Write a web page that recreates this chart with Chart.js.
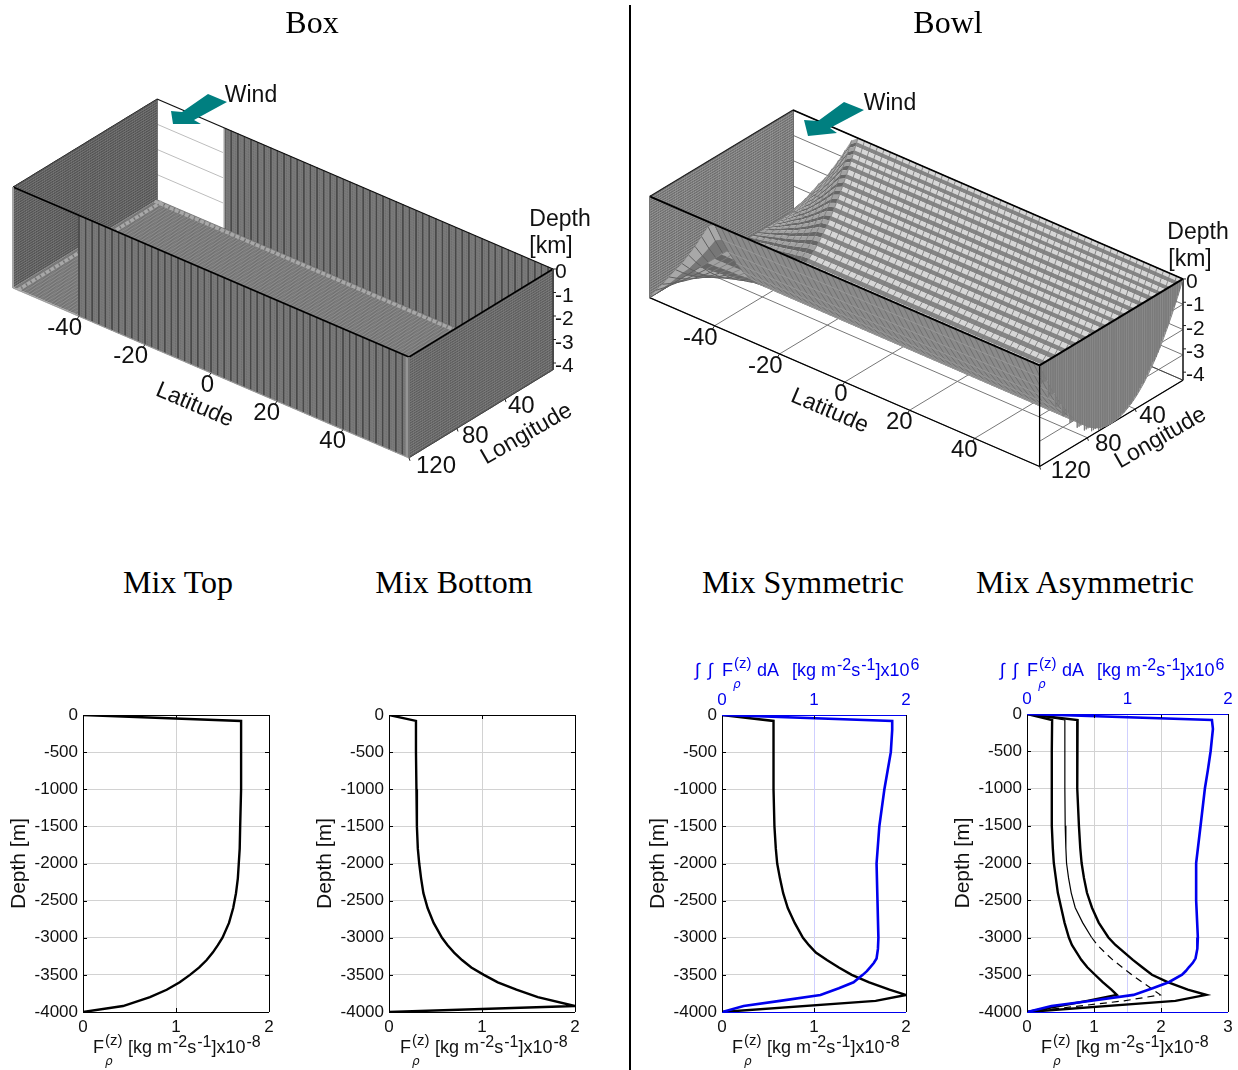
<!DOCTYPE html>
<html>
<head>
<meta charset="utf-8">
<title>Box and Bowl</title>
<script src="https://cdn.jsdelivr.net/npm/chart.js@4"></script>
<style>
  html, body { margin: 0; padding: 0; background: #fff; }
  body { position: relative; width: 1238px; height: 1070px; overflow: hidden; font-family: "Liberation Sans", sans-serif; color: #111; }
  canvas { position: absolute; }
  .divider { position: absolute; left: 629px; top: 5px; width: 2px; height: 1065px; background: #000; }
  .title { position: absolute; font-family: "Liberation Serif", serif; font-size: 32px; transform: translate(-50%, -50%); white-space: nowrap; color: #000; }
  .lbl { position: absolute; font-size: 23px; white-space: nowrap; line-height: 1; }
  .axlab { position: absolute; height: 20px; line-height: 20px; font-size: 18px; white-space: nowrap; color: #111; }
  .axlab span { position: absolute; top: 0; }
  .axlab.blue { color: #0000ee; }
  .axlab .rho { font-family: "DejaVu Sans", serif; font-style: italic; font-size: 12px; top: 14px; }
  .axlab .z { font-size: 15px; top: -7px; }
  .axlab i { font-style: normal; font-size: 16px; position: relative; top: -6px; margin-left: 1px; }
  svg { position: absolute; left: 0; top: 0; }
</style>
</head>
<body>
<canvas id="boxChart" width="625" height="445" style="left:0;top:60px"></canvas>
<canvas id="bowlChart" width="600" height="445" style="left:635px;top:60px"></canvas>
<canvas id="flux1"></canvas>
<canvas id="flux2"></canvas>
<canvas id="flux3"></canvas>
<canvas id="flux4"></canvas>
<svg width="1238" height="200">
  <polygon points="208,94 227,102 194,120 201,124 173,124 171,111 182,112" fill="#007f80"/>
  <polygon points="844,102 864,110 830,128 837,133 808,136 804,120 818,121" fill="#007f80"/>
</svg>
<div class="divider"></div>
<div id="labels"></div>

<script>
// ---- curvas de flujo (profundidad en m, flujo en 1e-8, integral en 1e6)
const depthLevels = [0, -80, -500, -1000, -1500, -1800, -2000, -2200, -2400, -2600, -2800, -3000, -3100, -3200, -3300, -3400, -3500, -3600, -3700, -3800, -3920, -4000];
const fluxTop = [0, 1.7, 1.7, 1.7, 1.69, 1.685, 1.675, 1.665, 1.645, 1.615, 1.57, 1.5, 1.45, 1.395, 1.33, 1.25, 1.15, 1.04, 0.9, 0.72, 0.43, 0];
const fluxBottom = [0, 0.29, 0.29, 0.295, 0.3, 0.31, 0.325, 0.345, 0.37, 0.415, 0.48, 0.57, 0.63, 0.7, 0.785, 0.885, 1.02, 1.17, 1.37, 1.6, 2.0, 0];

const depthMixed = [0, -80, -500, -1000, -1500, -1800, -2000, -2200, -2400, -2600, -2800, -3000, -3100, -3200, -3300, -3400, -3500, -3600, -3700, -3770, -3850, -4000];
const fluxSym = [0, 0.56, 0.56, 0.56, 0.57, 0.585, 0.6, 0.63, 0.665, 0.715, 0.79, 0.88, 0.945, 1.02, 1.14, 1.27, 1.41, 1.6, 1.82, 2.0, 1.67, 0];
const fluxAsymLeft = [0, 0.375, 0.37, 0.37, 0.37, 0.385, 0.4, 0.43, 0.46, 0.51, 0.56, 0.625, 0.67, 0.74, 0.81, 0.9, 1.015, 1.13, 1.26, 1.34, 0.9, 0];
const fluxAsymMid = [0, 0.565, 0.565, 0.565, 0.57, 0.58, 0.59, 0.62, 0.66, 0.72, 0.83, 0.965, 1.05, 1.16, 1.28, 1.42, 1.565, 1.72, 1.88, 1.99, 1.45, 0];
const fluxAsymRight = [0, 0.755, 0.75, 0.75, 0.775, 0.795, 0.815, 0.85, 0.895, 0.97, 1.07, 1.215, 1.32, 1.45, 1.58, 1.72, 1.865, 2.1, 2.4, 2.675, 2.215, 0];

const depthArea = [0, -80, -200, -500, -750, -1000, -1500, -2000, -2500, -3000, -3150, -3280, -3340, -3400, -3450, -3500, -3600, -3680, -3770, -3850, -3920, -4000];
const areaSym = [0, 1.85, 1.85, 1.835, 1.8, 1.765, 1.71, 1.68, 1.69, 1.7, 1.695, 1.68, 1.65, 1.61, 1.575, 1.53, 1.43, 1.27, 1.07, 0.63, 0.235, 0];
const areaAsym = [0, 1.84, 1.85, 1.827, 1.8, 1.77, 1.727, 1.683, 1.683, 1.7, 1.695, 1.677, 1.65, 1.61, 1.58, 1.543, 1.41, 1.25, 1.06, 0.643, 0.243, 0];

const depthTicks = [0, -1, -2, -3, -4];
const latTicks = [-40, -20, 0, 20, 40];
const lonTicks = [40, 80, 120];

const bowlLon = [0, 1, 2, 3, 4, 5, 6, 7, 8.2, 9.4, 10.6, 11.8, 13, 14.2, 15.5, 16.8, 18.1, 19.5, 21, 22.5, 24, 25.6, 27.2, 29, 30.8, 32.6, 34.6, 36.6, 38.8, 41, 43.4, 46, 48.8, 52, 55.5, 60, 66, 72, 78, 84, 90, 96, 102, 108, 114, 120];
const bowlDepth = [0, 0.13, 0.26, 0.39, 0.52, 0.64, 0.76, 0.88, 1.02, 1.16, 1.29, 1.42, 1.55, 1.67, 1.8, 1.93, 2.05, 2.18, 2.31, 2.44, 2.56, 2.68, 2.8, 2.93, 3.05, 3.17, 3.28, 3.39, 3.5, 3.6, 3.69, 3.78, 3.86, 3.93, 3.98, 4.0, 3.96, 3.84, 3.64, 3.36, 3.0, 2.56, 2.04, 1.44, 0.76, 0];
// canal sur: profundidad sobre la pared lon=0
const channelLat = [-60, -58, -56, -54, -52, -50, -48, -46, -44, -42, -40];
const channelDepth = [4, 3.6, 3.25, 2.85, 2.45, 2.1, 1.65, 1.2, 0.7, 0.2, 0];

// ---- proyeccion de las cajas 3D
const boxView = { ox: 157, oy: 99, latX: 3.3, latY: 1.4167, lonX: -1.2, lonY: 0.7333, zY: 25.2, tickZ: 23.5 };
const bowlView = { ox: 793, oy: 110, latX: 3.25, latY: 1.408, lonX: -1.195, lonY: 0.72, zY: 25.3, tickZ: 23.3 };

function proj(v, lat, lon, d) {
  return { x: v.ox + (lat + 60) * v.latX + lon * v.lonX, y: v.oy + (lat + 60) * v.latY + lon * v.lonY + d * v.zY };
}
function depthTickPoint(v, d) {
  const p = proj(v, 60, 0, 0);
  return { x: p.x, y: p.y - d * v.tickZ };
}

function steps(a, b, s) {
  const out = [];
  for (let k = a; k <= b + 1e-6; k += s) out.push(k);
  return out;
}

let drawOrder = 0;
function poly(points, color) {
  drawOrder--;
  return { data: points.concat([points[0]]), showLine: true, fill: "shape", backgroundColor: color, borderWidth: 0, pointRadius: 0, order: drawOrder };
}
function lines(segs, color, width, dash) {
  const data = [];
  segs.forEach(function (s) {
    s.forEach(function (p) { data.push(p); });
    data.push({ x: NaN, y: NaN });
  });
  drawOrder--;
  return { data: data, showLine: true, fill: false, borderColor: color, borderWidth: width, borderDash: dash || [], pointRadius: 0, order: drawOrder, spanGaps: false };
}

function panelChart(id, left, top, w, h, datasets) {
  return new Chart(document.getElementById(id), {
    type: "scatter",
    data: { datasets: datasets },
    options: {
      responsive: false,
      animation: false,
      events: [],
      layout: { padding: 0 },
      plugins: { legend: { display: false }, tooltip: { enabled: false } },
      scales: {
        x: { type: "linear", display: false, min: left, max: left + w },
        y: { type: "linear", display: false, min: top, max: top + h, reverse: true },
      },
    },
  });
}

// mallas de pared
function latWall(v, lon, fromLat, toLat, base, coarse, fine, row) {
  const out = [poly([proj(v, fromLat, lon, 0), proj(v, toLat, lon, 0), proj(v, toLat, lon, 4), proj(v, fromLat, lon, 4)], base)];
  out.push(lines(steps(fromLat, toLat, 0.5).map(function (l) { return [proj(v, l, lon, 0), proj(v, l, lon, 4)]; }), fine, 0.6));
  out.push(lines(steps(0.1, 3.9, 0.1).map(function (d) { return [proj(v, fromLat, lon, d), proj(v, toLat, lon, d)]; }), row, 0.7));
  out.push(lines(steps(fromLat, toLat, 2).map(function (l) { return [proj(v, l, lon, 0), proj(v, l, lon, 4)]; }), coarse, 0.9));
  return out;
}
function lonWall(v, lat, base, stripe, row) {
  const out = [poly([proj(v, lat, 0, 0), proj(v, lat, 120, 0), proj(v, lat, 120, 4), proj(v, lat, 0, 4)], base)];
  out.push(lines(steps(0, 120, 1.5).map(function (l) { return [proj(v, lat, l, 0), proj(v, lat, l, 4)]; }), stripe, 0.8));
  out.push(lines(steps(0.1, 3.9, 0.1).map(function (d) { return [proj(v, lat, 0, d), proj(v, lat, 120, d)]; }), row, 0.7));
  return out;
}
function edges(v, list) {
  return list.map(function (e) {
    return lines([[proj(v, e[0], e[1], e[2]), proj(v, e[3], e[4], e[5])]], e[6], e[7]);
  });
}
function axisTicks(v) {
  const segs = [];
  depthTicks.forEach(function (d) {
    const p = depthTickPoint(v, d);
    segs.push([p, { x: p.x + 3, y: p.y }]);
  });
  latTicks.forEach(function (l) {
    const p = proj(v, l, 120, 4);
    segs.push([p, { x: p.x - 2, y: p.y + 3 }]);
  });
  lonTicks.forEach(function (l) {
    const p = proj(v, 60, l, 4);
    segs.push([p, { x: p.x + 1, y: p.y + 3 }]);
  });
  return lines(segs, "#222", 1);
}

function boxDatasets() {
  const v = boxView;
  let ds = [];
  ds.push(lines(steps(1, 3, 1).map(function (d) { return [proj(v, -60, 0, d), proj(v, -40, 0, d)]; }), "#bdbdbd", 1));
  ds = ds.concat(lonWall(v, -60, "#6e6e6e", "#505050", "#858585"));
  ds = ds.concat(latWall(v, 0, -39.5, 60, "#6a6a6a", "#484848", "#7a7a7a", "#7d7d7d"));
  ds.push(poly([proj(v, -40, 0, 0), proj(v, -39.5, 0, 0), proj(v, -39.5, 0, 4), proj(v, -40, 0, 4)], "#cfcfcf"));
  // fondo
  ds.push(poly([proj(v, -60, 0, 4), proj(v, 60, 0, 4), proj(v, 60, 120, 4), proj(v, -60, 120, 4)], "#868686"));
  ds.push(lines(steps(0, 120, 1.2).map(function (l) { return [proj(v, -60, l, 4), proj(v, 60, l, 4)]; }), "#666", 0.7));
  ds.push(lines(steps(-60, 60, 1).map(function (l) { return [proj(v, l, 0, 4), proj(v, l, 120, 4)]; }), "#9a9a9a", 0.6));
  ds.push(lines([[proj(v, -60, 2, 4), proj(v, 60, 2, 4)], [proj(v, -58.5, 0, 4), proj(v, -58.5, 120, 4)]], "#a8a8a8", 3.5, [4, 1.5]));
  ds.push(lines([[proj(v, -60, 120, 4), proj(v, 60, 120, 4)]], "#c4c4c4", 1.5));
  // pared frontal y pared derecha
  ds = ds.concat(latWall(v, 120, -40, 59, "#6a6a6a", "#484848", "#7a7a7a", "#7d7d7d"));
  ds.push(poly([proj(v, 59, 120, 0), proj(v, 60, 120, 0), proj(v, 60, 120, 4), proj(v, 59, 120, 4)], "#959595"));
  ds = ds.concat(lonWall(v, 60, "#777", "#5a5a5a", "#8a8a8a"));
  ds = ds.concat(edges(v, [
    [-60, 120, 0, -60, 0, 0, "#333", 1],
    [-60, 0, 0, 60, 0, 0, "#111", 1.3],
    [-60, 120, 0, 60, 120, 0, "#000", 1.8],
    [60, 120, 0, 60, 0, 0, "#000", 1.5],
    [60, 0, 0, 60, 0, 4, "#444", 1],
    [60, 0, 4, 60, 120, 4, "#444", 1],
    [60, 120, 0, 60, 120, 4, "#777", 1],
    [-60, 120, 4, 60, 120, 4, "#999", 1],
    [-60, 120, 0, -60, 120, 4, "#aaa", 1],
  ]));
  ds.push(axisTicks(v));
  return ds;
}

function floorDepth(li, lonI) {
  const d0 = bowlDepth[lonI];
  return d0 + (4 - d0) * (channelDepth[li] / 4);
}

function bowlDatasets() {
  const v = bowlView;
  const i78 = bowlLon.indexOf(78);
  let ds = [];
  // rejilla detras
  const grid = [];
  latTicks.forEach(function (l) { grid.push([proj(v, l, 0, 4), proj(v, l, 120, 4)]); });
  lonTicks.forEach(function (l) { grid.push([proj(v, -60, l, 4), proj(v, 60, l, 4)]); });
  depthTicks.forEach(function (d) {
    grid.push([proj(v, -60, 0, -d), proj(v, 60, 0, -d)]);
    grid.push([proj(v, 60, 0, -d), proj(v, 60, 120, -d)]);
  });
  ds.push(lines(grid, "#777", 1));
  ds = ds.concat(edges(v, [
    [-60, 0, 0, -60, 0, 4, "#666", 1],
    [-60, 0, 4, 60, 0, 4, "#444", 1],
    [60, 0, 0, 60, 0, 4, "#333", 1],
    [60, 0, 4, 60, 120, 4, "#000", 1.2],
    [-60, 120, 4, 60, 120, 4, "#000", 1.2],
    [-60, 0, 4, -60, 120, 4, "#000", 1],
  ]));
  ds = ds.concat(lonWall(v, -60, "#8c8c8c", "#6a6a6a", "#a8a8a8"));
  // canal, lado cercano (abanico a la izquierda)
  for (let i = bowlLon.length - 2; i >= i78; i--) {
    const a = [], b = [];
    channelLat.forEach(function (l, li) {
      a.push(proj(v, l, bowlLon[i], floorDepth(li, i)));
      b.unshift(proj(v, l, bowlLon[i + 1], floorDepth(li, i + 1)));
    });
    ds.push(poly(a.concat(b), i % 2 ? "#777" : "#a8a8a8"));
  }
  const fan = [];
  channelLat.forEach(function (l, li) {
    const s = [];
    for (let i = i78; i < bowlLon.length; i++) s.push(proj(v, l, bowlLon[i], floorDepth(li, i)));
    fan.push(s);
  });
  ds.push(lines(fan, "#5f5f5f", 1));
  // franjas del fondo
  for (let i = 0; i < i78; i++) {
    const a = [], b = [];
    channelLat.forEach(function (l, li) {
      a.push(proj(v, l, bowlLon[i], floorDepth(li, i)));
      b.unshift(proj(v, l, bowlLon[i + 1], floorDepth(li, i + 1)));
    });
    ds.push(poly(a.concat(b), i % 2 ? "#666" : "#a2a2a2"));
    ds.push(poly([proj(v, -40, bowlLon[i], bowlDepth[i]), proj(v, 60, bowlLon[i], bowlDepth[i]), proj(v, 60, bowlLon[i + 1], bowlDepth[i + 1]), proj(v, -40, bowlLon[i + 1], bowlDepth[i + 1])], i % 2 ? "#858585" : "#d6d6d6"));
  }
  const cross = [];
  steps(-60, 60, 2).forEach(function (l) {
    const li = channelLat.indexOf(l);
    const s = [];
    for (let i = 0; i <= i78; i++) s.push(proj(v, l, bowlLon[i], li >= 0 ? floorDepth(li, i) : bowlDepth[i]));
    cross.push(s);
  });
  ds.push(lines(cross, "#7d7d7d", 0.9));
  // lado cercano visto desde fuera
  const near = [];
  for (let i = bowlLon.length - 1; i >= i78; i--) near.push(proj(v, 60, bowlLon[i], bowlDepth[i]));
  for (let i = i78; i < bowlLon.length; i++) near.push(proj(v, -40, bowlLon[i], bowlDepth[i]));
  ds.push(poly(near, "#8a8a8a"));
  const nearCross = [];
  steps(-40, 60, 2).forEach(function (l) {
    const s = [];
    for (let i = i78; i < bowlLon.length; i++) s.push(proj(v, l, bowlLon[i], bowlDepth[i]));
    nearCross.push(s);
  });
  ds.push(lines(nearCross, "#707070", 1));
  const nearRows = [];
  for (let i = i78; i < bowlLon.length; i++) nearRows.push([proj(v, -40, bowlLon[i], bowlDepth[i]), proj(v, 60, bowlLon[i], bowlDepth[i])]);
  ds.push(lines(nearRows, "#9a9a9a", 0.8));
  // pared derecha, hasta el perfil
  const wall = [proj(v, 60, 120, 0), proj(v, 60, 0, 0)];
  bowlLon.forEach(function (l, i) { wall.push(proj(v, 60, l, bowlDepth[i])); });
  ds.push(poly(wall, "#979797"));
  const wallLines = [];
  steps(0, 120, 1.5).forEach(function (l) {
    let i = 0;
    while (i < bowlLon.length - 1 && bowlLon[i + 1] <= l) i++;
    wallLines.push([proj(v, 60, l, 0), proj(v, 60, l, bowlDepth[i])]);
  });
  ds.push(lines(wallLines, "#7a7a7a", 0.8));
  ds = ds.concat(edges(v, [
    [-60, 120, 0, -60, 0, 0, "#222", 1.2],
    [-60, 0, 0, 60, 0, 0, "#000", 1.8],
    [-60, 120, 0, 60, 120, 0, "#000", 2],
    [60, 120, 0, 60, 0, 0, "#000", 2],
    [60, 120, 0, 60, 120, 4, "#000", 1.3],
    [-60, 120, 0, -60, 120, 4, "#777", 1],
  ]));
  ds.push(axisTicks(v));
  return ds;
}

// ---- perfiles de abajo
const frameTicks = {
  id: "frameTicks",
  afterDatasetsDraw(chart, args, opts) {
    const ctx = chart.ctx;
    const a = chart.chartArea;
    ctx.save();
    ctx.lineWidth = 1;
    ctx.strokeStyle = "#000";
    chart.scales.y.ticks.forEach(function (t) {
      const py = Math.round(chart.scales.y.getPixelForValue(t.value)) + 0.5;
      ctx.beginPath();
      ctx.moveTo(a.left, py); ctx.lineTo(a.left + 4, py);
      ctx.moveTo(a.right, py); ctx.lineTo(a.right - 4, py);
      ctx.stroke();
    });
    chart.scales.x.ticks.forEach(function (t) {
      const px = Math.round(chart.scales.x.getPixelForValue(t.value)) + 0.5;
      ctx.beginPath();
      ctx.moveTo(px, a.bottom); ctx.lineTo(px, a.bottom - 4);
      ctx.moveTo(px, a.top); ctx.lineTo(px, a.top + 4);
      ctx.stroke();
    });
    ctx.beginPath();
    ctx.moveTo(a.left + 0.5, a.top); ctx.lineTo(a.left + 0.5, a.bottom);
    ctx.moveTo(a.right + 0.5, a.top); ctx.lineTo(a.right + 0.5, a.bottom);
    ctx.stroke();
    ctx.strokeStyle = opts.spine;
    ctx.beginPath();
    ctx.moveTo(a.left, a.top + 0.5); ctx.lineTo(a.right, a.top + 0.5);
    ctx.moveTo(a.left, a.bottom + 0.5); ctx.lineTo(a.right, a.bottom + 0.5);
    ctx.stroke();
    ctx.restore();
  },
};

function profile(depths, values, color, width, axisId, dashBelow) {
  const set = {
    data: depths.map(function (d, i) { return { x: values[i], y: d }; }),
    showLine: true,
    borderColor: color,
    borderWidth: width,
    pointRadius: 0,
    tension: 0,
    xAxisID: axisId,
    yAxisID: "y",
  };
  if (dashBelow) {
    set.segment = { borderDash: function (c) { return c.p0.parsed.y <= dashBelow ? [7, 5] : undefined; } };
  }
  return set;
}

const leftGutter = 76, topGutter = 30, bottomGutter = 30, rightGutter = 14;
const plainTick = function (value) { return String(value); };

function fluxChart(id, plot, xMax, sets, hasTop, showBottomGrid) {
  const cv = document.getElementById(id);
  cv.width = leftGutter + plot.w + rightGutter;
  cv.height = topGutter + plot.h + bottomGutter;
  cv.style.left = plot.x - leftGutter + "px";
  cv.style.top = plot.y - topGutter + "px";
  const scales = {
    x: {
      type: "linear", position: "bottom", min: 0, max: xMax,
      border: { display: false },
      grid: { color: "#d2d2d2", drawTicks: false, display: showBottomGrid },
      ticks: { stepSize: 1, padding: 5, maxRotation: 0, autoSkip: false, color: "#111", font: { size: 17 }, callback: plainTick },
      afterFit: function (s) { s.height = bottomGutter; s.paddingLeft = 0; s.paddingRight = 0; },
    },
    y: {
      type: "linear", position: "left", min: -4000, max: 0,
      border: { display: false },
      grid: { color: "#d2d2d2", drawTicks: false },
      ticks: { stepSize: 500, padding: 5, autoSkip: false, color: "#111", font: { size: 17 }, callback: plainTick },
      title: { display: true, text: "Depth [m]", font: { size: 21 }, color: "#111", padding: 0 },
      afterFit: function (s) { s.width = leftGutter; s.paddingTop = 0; s.paddingBottom = 0; },
    },
  };
  if (hasTop) {
    scales.x2 = {
      type: "linear", position: "top", min: 0, max: 2,
      border: { display: false },
      grid: { color: "#cfcfff", drawTicks: false },
      ticks: { stepSize: 1, padding: 4, maxRotation: 0, autoSkip: false, color: "#0000ee", font: { size: 17 }, callback: plainTick },
      afterFit: function (s) { s.height = topGutter; s.paddingLeft = 0; s.paddingRight = 0; },
    };
  }
  return new Chart(cv, {
    type: "scatter",
    data: { datasets: sets },
    options: {
      responsive: false,
      animation: false,
      events: [],
      layout: { padding: { top: hasTop ? 0 : topGutter, right: rightGutter, left: 0, bottom: 0 } },
      plugins: { legend: { display: false }, tooltip: { enabled: false }, frameTicks: { spine: hasTop ? "#0000ee" : "#000" } },
      scales: scales,
    },
    plugins: [frameTicks],
  });
}

// ---- textos
const labelsBox = document.getElementById("labels");
function addText(text, cls, x, y, css) {
  const el = document.createElement("div");
  el.className = cls;
  el.textContent = text;
  el.style.left = x + "px";
  el.style.top = y + "px";
  if (css) Object.assign(el.style, css);
  labelsBox.appendChild(el);
}
function addTick(text, x, y, size, anchor) {
  addText(text, "lbl", x, y, { fontSize: size + "px", transform: "translate(" + anchor + ",-50%)" });
}
function bottomTitle(x, y) {
  const el = document.createElement("div");
  el.className = "axlab";
  el.style.left = x + "px";
  el.style.top = y + "px";
  el.innerHTML = '<span>F</span><span class="z" style="left:12px">(z)</span><span class="rho" style="left:12px">ρ</span>' +
    '<span style="left:35px">[kg m<i>-2</i>s<i>-1</i>]x10<i>-8</i></span>';
  labelsBox.appendChild(el);
}
function topTitle(x, y) {
  const el = document.createElement("div");
  el.className = "axlab blue";
  el.style.left = x + "px";
  el.style.top = y + "px";
  el.innerHTML = '<span style="left:0">∫</span><span style="left:13px">∫</span><span style="left:27px">F</span>' +
    '<span class="z" style="left:39px">(z)</span><span class="rho" style="left:38px">ρ</span><span style="left:62px">dA</span>' +
    '<span style="left:97px">[kg m<i>-2</i>s<i>-1</i>]x10<i>6</i></span>';
  labelsBox.appendChild(el);
}
function panelText(v, depthX, lonBase, lonSlope, lonDrop, words) {
  latTicks.forEach(function (l) {
    const p = proj(v, l, 120, 4);
    addTick(String(l), p.x + 3, p.y + 11, 24, "-100%");
  });
  lonTicks.forEach(function (l) {
    const p = proj(v, 60, l, 4);
    addTick(String(l), p.x + lonBase + (l - 40) * lonSlope, p.y + 6 - (l - 40) * lonDrop, 24, "0");
  });
  depthTicks.forEach(function (d) {
    const p = depthTickPoint(v, d);
    addTick(String(d), p.x + depthX, p.y + 1, 21, "0");
  });
  words.forEach(function (w) {
    addText(w[0], "lbl", w[1], w[2], { transform: "translate(-50%,-50%) rotate(" + w[3] + "deg)" });
  });
}

window.onload = function () {
  panelChart("boxChart", 0, 60, 625, 445, boxDatasets());
  panelChart("bowlChart", 635, 60, 600, 445, bowlDatasets());

  fluxChart("flux1", { x: 83, y: 715, w: 186, h: 297 }, 2, [profile(depthLevels, fluxTop, "#000", 2.4, "x")], false, true);
  fluxChart("flux2", { x: 389, y: 715, w: 186, h: 297 }, 2, [profile(depthLevels, fluxBottom, "#000", 2.4, "x")], false, true);
  fluxChart("flux3", { x: 722, y: 715, w: 184, h: 297 }, 2, [
    profile(depthArea, areaSym, "#0000ee", 2.6, "x2"),
    profile(depthMixed, fluxSym, "#000", 2.4, "x"),
  ], true, false);
  fluxChart("flux4", { x: 1027, y: 714, w: 201, h: 298 }, 3, [
    profile(depthArea, areaAsym, "#0000ee", 2.6, "x2"),
    profile(depthMixed, fluxAsymLeft, "#000", 2.4, "x"),
    profile(depthMixed, fluxAsymMid, "#000", 1.2, "x", -3000),
    profile(depthMixed, fluxAsymRight, "#000", 2.4, "x"),
  ], true, true);

  addText("Box", "title", 312, 22);
  addText("Bowl", "title", 948, 22);
  addText("Mix Top", "title", 178, 582);
  addText("Mix Bottom", "title", 454, 582);
  addText("Mix Symmetric", "title", 803, 582);
  addText("Mix Asymmetric", "title", 1085, 582);

  panelText(boxView, 2, 3, 0.05, -0.02, [
    ["Wind", 251, 94, 0], ["Depth", 560, 218, 0], ["[km]", 551, 245, 0],
    ["Latitude", 195, 404, 23], ["Longitude", 526, 433, -30],
  ]);
  panelText(bowlView, 3, 4, 0.09, 0.03, [
    ["Wind", 890, 102, 0], ["Depth", 1198, 231, 0], ["[km]", 1190, 258, 0],
    ["Latitude", 830, 410, 23], ["Longitude", 1160, 437, -30],
  ]);

  bottomTitle(93, 1037);
  bottomTitle(400, 1037);
  bottomTitle(732, 1037);
  bottomTitle(1041, 1037);
  topTitle(695, 660);
  topTitle(1000, 660);
};
</script>
</body>
</html>
